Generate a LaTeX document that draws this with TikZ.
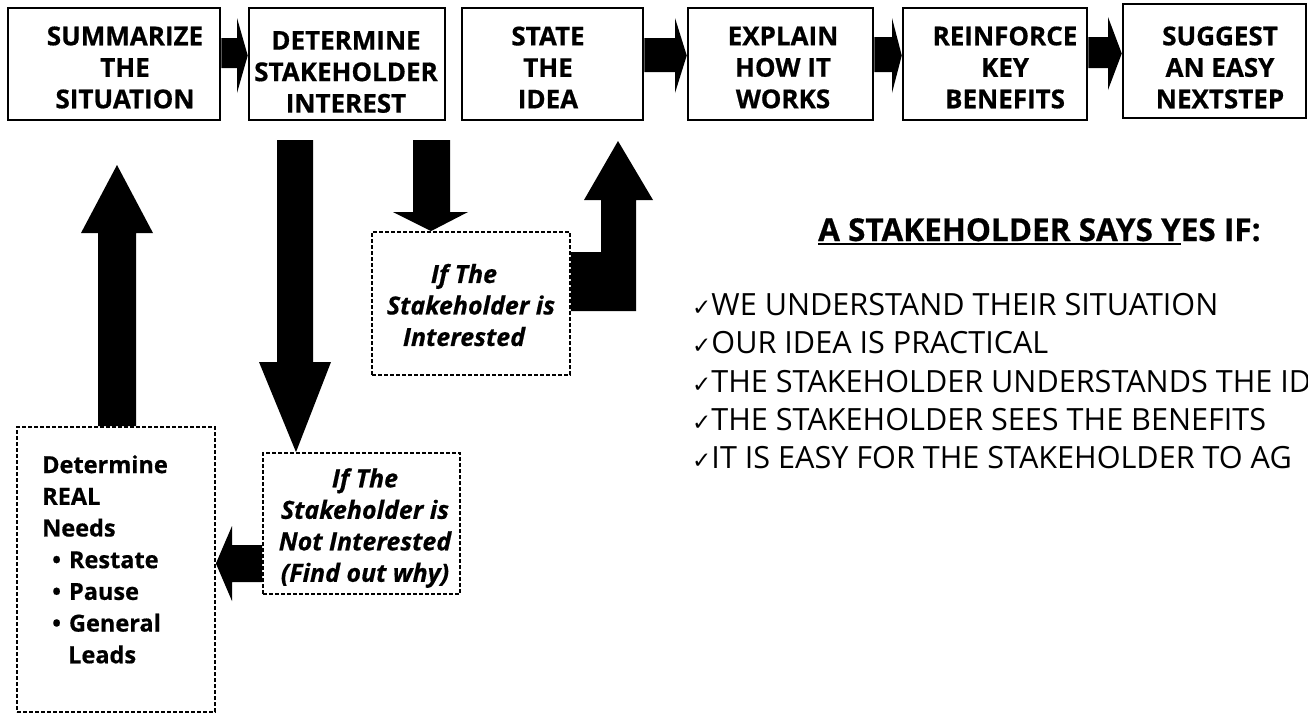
\documentclass[tikz,border=0pt]{standalone}
\usepackage{fontspec}
\setmainfont{Open Sans}[BoldFeatures={FakeBold=0.6},BoldItalicFeatures={FakeBold=0.6}]
\newfontfamily\symfont{DejaVu Sans}
\newcommand\myul[1]{\setbox0\hbox{#1}\rlap{\rule[-4pt]{\wd0}{2.2pt}}\box0}
\newcommand\chk{{\symfont\fontsize{23}{23}\selectfont ✓}}
\begin{document}
\begin{tikzpicture}[x=1pt,y=-1pt,
  box/.style={draw,line width=2.5pt,inner sep=0pt},
  dbox/.style={draw,line width=1.8pt,dash pattern=on 4pt off 2pt,inner sep=0pt},
  toptext/.style={inner sep=0pt,align=center,font=\fontsize{26}{31.5}\selectfont\bfseries},
  itext/.style={inner sep=0pt,align=center,font=\fontsize{25}{31.5}\selectfont\bfseries\itshape},
  ltext/.style={inner sep=0pt,anchor=base west,font=\fontsize{30.6}{38}\selectfont},
  blk/.style={fill=black}]
\useasboundingbox (0,0) rectangle (1308,713);
\clip (0,0) rectangle (1308,713);
% top boxes
\node[box,minimum width=212pt,minimum height=112pt] (b1) at (114,64) {};
\node[box,minimum width=196pt,minimum height=112pt] (b2) at (347,64) {};
\node[box,minimum width=181pt,minimum height=112pt] (b3) at (552.5,64) {};
\node[box,minimum width=185pt,minimum height=112pt] (b4) at (780.5,64) {};
\node[box,minimum width=184pt,minimum height=112pt] (b5) at (995,64) {};
\node[box,minimum width=183pt,minimum height=114pt] (b6) at (1214.5,61) {};
\node[toptext] (t1) at (125,67.5) {SUMMARIZE\\THE\\SITUATION};
\node[toptext] (t2) at (346,72) {DETERMINE\\STAKEHOLDER\\INTEREST};
\node[toptext] (t3) at (548,67.5) {STATE\\THE\\IDEA};
\node[toptext] (t4) at (783,67.5) {EXPLAIN\\HOW IT\\WORKS};
\node[toptext] (t5) at (1005,67.5) {REINFORCE\\KEY\\BENEFITS};
\node[toptext] (t6) at (1220,67.5) {SUGGEST\\AN EASY\\NEXTSTEP};
% horizontal block arrows between top boxes
\fill[blk] (b1.east |- 0,38) -- (237,38) -- (237,18) -- (b2.west |- 0,55.5) -- (237,93) -- (237,68) -- (b1.east |- 0,68) -- cycle;
\fill[blk] (b3.east |- 0,38) -- (675,38) -- (675,18) -- (b4.west |- 0,55.5) -- (675,93) -- (675,72) -- (b3.east |- 0,72) -- cycle;
\fill[blk] (b4.east |- 0,37) -- (892,37) -- (892,18) -- (b5.west |- 0,55.5) -- (892,93) -- (892,72) -- (b4.east |- 0,72) -- cycle;
\fill[blk] (b5.east |- 0,37) -- (1108,37) -- (1108,17) -- (b6.west |- 0,53.5) -- (1108,90) -- (1108,68) -- (b5.east |- 0,68) -- cycle;
% dashed boxes
\node[dbox,minimum width=198pt,minimum height=143pt] (int) at (471,303.5) {};
\node[dbox,minimum width=197pt,minimum height=141pt] (nint) at (361.5,523.5) {};
\node[dbox,minimum width=198pt,minimum height=285pt] (needs) at (116,569.5) {};
\node[itext] (tint) at (471,305) {If The\hspace*{14pt}\\Stakeholder is\\Interested\hspace*{14pt}};
\node[itext] (tnint) at (365,528) {If The\\Stakeholder is\\Not Interested\\(Find out why)};
\node[inner sep=0pt,anchor=north west,align=left,font=\fontsize{23.5}{31.7}\selectfont\bfseries] (tneeds) at (42,455)
  {Determine\\REAL\\Needs\\\hspace*{10pt}•\hspace{8pt}Restate\\\hspace*{10pt}•\hspace{8pt}Pause\\\hspace*{10pt}•\hspace{8pt}General\\\hspace*{26pt}Leads};
% big down arrow to "not interested"
\fill[blk] (277,140) -- (313,140) -- (313,362) -- (331,362) -- (nint.north -| 296,0) -- (259,362) -- (277,362) -- cycle;
% small down arrow to "interested"
\fill[blk] (413,140) -- (450,140) -- (450,212) -- (468,212) -- (int.north -| 431,0) -- (393,212) -- (413,212) -- cycle;
% bent arrow up to "state the idea"
\fill[blk] (int.east |- 0,252) -- (601,252) -- (601,200) -- (584,200) -- (618,141) -- (653,200) -- (636,200) -- (636,311) -- (int.east |- 0,311) -- cycle;
% up arrow from needs box
\fill[blk] (needs.north -| 98,0) -- (98,233) -- (81,233) -- (117,165) -- (153,233) -- (136,233) -- (needs.north -| 136,0) -- cycle;
% left arrow from "not interested" to needs box
\fill[blk] (nint.west |- 0,545) -- (232,545) -- (232,526) -- (needs.east |- 0,563.5) -- (232,601) -- (232,582) -- (nint.west |- 0,582) -- cycle;
% right text
\node[inner sep=0pt,anchor=base west,font=\fontsize{31.5}{31.5}\selectfont\bfseries] (head) at (818,241) {\myul{A STAKEHOLDER SAYS Y}ES IF:};
\node[ltext] (l1) at (692,315) {\chk WE UNDERSTAND THEIR SITUATION};
\node[ltext] (l2) at (692,353) {\chk OUR IDEA IS PRACTICAL};
\node[ltext] (l3) at (692,392) {\chk THE STAKEHOLDER UNDERSTANDS THE ID};
\node[ltext] (l4) at (692,430) {\chk THE STAKEHOLDER SEES THE BENEFITS};
\node[ltext] (l5) at (692,468) {\chk IT IS EASY FOR THE STAKEHOLDER TO AG};
\end{tikzpicture}
\end{document}
